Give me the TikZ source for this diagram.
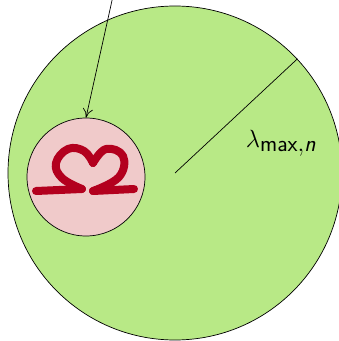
\documentclass[tikz,border=0pt]{standalone}
\usepackage{amsmath}
\usetikzlibrary{arrows.meta}

\definecolor{domaingreen}{HTML}{B8E986}
\definecolor{holepink}{HTML}{F0CACA}
\definecolor{omegared}{HTML}{B3001E}

\begin{document}
\begin{tikzpicture}[
  x=1pt, y=1pt,
  region/.style={draw, circle, line width=0.7pt, inner sep=0pt},
  arr/.style={-{To[length=9pt,width=10pt]}, line width=0.7pt},
  stroke/.style={omegared, line width=8pt, line cap=round, line join=round}
]
\useasboundingbox (0,0) rectangle (339,341);
\node[region, fill=domaingreen, minimum size=334pt] (domain) at (175,168) {};
\node[region, fill=holepink, minimum size=118pt] (hole) at (86,164) {};
\draw[line width=0.7pt] (domain.center) -- (domain.43);
\node[font=\fontsize{33}{38}\selectfont] (lam) at (281,198)
  {$\lambda_{\text{\sffamily max},\text{\sffamily\itshape n}}$};
\coordinate (src) at (113,345);
\draw[arr] (src) -- (hole.north);
% omega drawn as one thick stroke
\draw[stroke] (36,150) -- (82,152);
\draw[stroke] plot[smooth, tension=0.7] coordinates
  {(82,152) (62,163) (56,178) (68,192) (84,190) (93,178)};
\draw[stroke] plot[smooth, tension=0.7] coordinates
  {(93,178) (106,192) (123,185) (119,164) (93,150)};
\draw[stroke] (93,150) -- (134,152);
\end{tikzpicture}
\end{document}
